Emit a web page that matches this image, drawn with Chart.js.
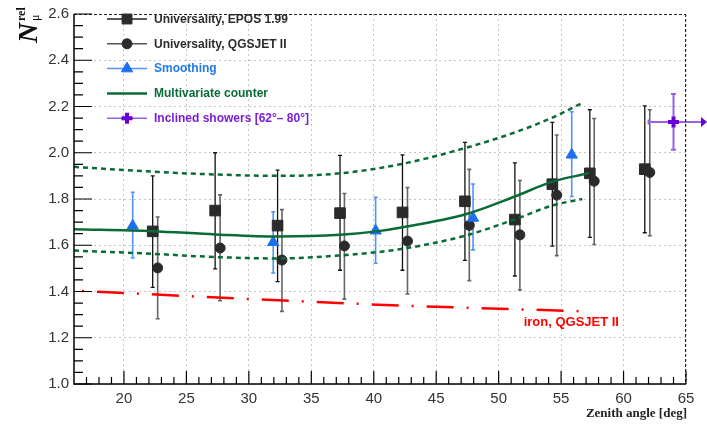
<!DOCTYPE html>
<html>
<head>
<meta charset="utf-8">
<script src="https://cdn.jsdelivr.net/npm/chart.js@4.4.0/dist/chart.umd.min.js"></script>
<style>
  html, body { margin: 0; padding: 0; background: #fff; }
  canvas { display: block; }
</style>
</head>
<body>
<canvas id="grafico" width="707" height="426"></canvas>
<script>
// eixo
const xTickValues = [20, 25, 30, 35, 40, 45, 50, 55, 60, 65]
const yTickValues = [1.0, 1.2, 1.4, 1.6, 1.8, 2.0, 2.2, 2.4, 2.6]

// Universality, EPOS 1.99
const eposX = [22.3, 27.3, 32.3, 37.3, 42.3, 47.3, 51.3, 54.3, 57.3, 61.7]
const eposY = [1.66, 1.75, 1.685, 1.739, 1.742, 1.79, 1.711, 1.864, 1.911, 1.929]
const eposHi = [1.9, 2.0, 1.925, 1.989, 1.991, 2.045, 1.956, 2.131, 2.186, 2.203]
const eposLo = [1.418, 1.498, 1.443, 1.492, 1.492, 1.535, 1.467, 1.596, 1.634, 1.654]

// Universality, QGSJET II
const qgsX = [22.7, 27.7, 32.65, 37.65, 42.7, 47.65, 51.7, 54.65, 57.65, 62.1]
const qgsY = [1.502, 1.588, 1.536, 1.597, 1.618, 1.686, 1.645, 1.817, 1.877, 1.915]
const qgsHi = [1.722, 1.818, 1.754, 1.824, 1.85, 1.928, 1.88, 2.077, 2.148, 2.186]
const qgsLo = [1.282, 1.36, 1.314, 1.367, 1.389, 1.447, 1.407, 1.555, 1.603, 1.641]

// Smoothing
const smoothX = [20.7, 31.95, 40.15, 47.95, 55.85]
const smoothY = [1.684, 1.613, 1.663, 1.718, 1.991]
const smoothHi = [1.829, 1.745, 1.807, 1.865, 2.177]
const smoothLo = [1.545, 1.48, 1.522, 1.58, 1.811]

// Multivariate counter (central + banda)
const mvaX = [16, 22.3, 27.3, 32.3, 37.3, 40.2, 42.1, 47.3, 51.3, 54.3, 57.2]
const mvaY = [1.669, 1.661, 1.647, 1.638, 1.645, 1.66, 1.676, 1.733, 1.811, 1.875, 1.911]
const mvaUpX = [16, 22.3, 27.3, 32.3, 37.3, 42.1, 47.3, 51.3, 54.3, 56.6]
const mvaUpY = [1.939, 1.918, 1.906, 1.9, 1.911, 1.95, 2.02, 2.088, 2.152, 2.213]
const mvaLowX = [16, 22.3, 27.3, 32.3, 37.3, 42.1, 47.3, 51.3, 54.3, 56.7]
const mvaLowY = [1.577, 1.563, 1.549, 1.543, 1.556, 1.583, 1.641, 1.712, 1.772, 1.8]

// iron, QGSJET II
const ironX = [16, 29, 42, 56.4]
const ironY = [1.404, 1.37, 1.339, 1.315]

// Inclined showers [62-80]
const inclX = [64.0]
const inclY = [2.133]
const inclHi = [2.254]
const inclLo = [2.013]
const inclXLo = [62]
const inclXHi = [80]

const legendLabels = [
  'Universality, EPOS 1.99',
  'Universality, QGSJET II',
  'Smoothing',
  'Multivariate counter',
  'Inclined showers [62°– 80°]'
]

const DARK = '#2b2b2b'
const BLUE = '#1f6ff2'
const GREEN = '#0b6b37'
const PURPLE = '#6a00d8'
const RED = '#ff0000'

const pts = (xs, ys) => xs.map((x, i) => ({ x, y: ys[i] }))

// barras de erro desenhadas pelas escalas do grafico
const errorBars = {
  id: 'errorBars',
  beforeDatasetsDraw(chart) {
    const { ctx, scales: { x, y } } = chart
    const sets = [
      { xs: eposX, lo: eposLo, hi: eposHi, color: '#111', width: 1.3 },
      { xs: qgsX, lo: qgsLo, hi: qgsHi, color: '#666', width: 1.6 },
      { xs: smoothX, lo: smoothLo, hi: smoothHi, color: '#4d94ff', width: 1.6 }
    ]
    ctx.save()
    sets.forEach(s => {
      ctx.strokeStyle = s.color
      ctx.lineWidth = s.width
      s.xs.forEach((xv, i) => {
        const px = x.getPixelForValue(xv)
        const top = y.getPixelForValue(s.hi[i])
        const bot = y.getPixelForValue(s.lo[i])
        ctx.beginPath()
        ctx.moveTo(px, top)
        ctx.lineTo(px, bot)
        ctx.moveTo(px - 2, top)
        ctx.lineTo(px + 2, top)
        ctx.moveTo(px - 2, bot)
        ctx.lineTo(px + 2, bot)
        ctx.stroke()
      })
    })
    // inclinados: barra horizontal sai do quadro ate a borda
    ctx.strokeStyle = '#9a5ee8'
    ctx.fillStyle = PURPLE
    ctx.lineWidth = 2
    inclX.forEach((xv, i) => {
      const px = x.getPixelForValue(xv)
      const py = y.getPixelForValue(inclY[i])
      const top = y.getPixelForValue(inclHi[i])
      const bot = y.getPixelForValue(inclLo[i])
      const left = x.getPixelForValue(inclXLo[i])
      const right = Math.min(x.getPixelForValue(inclXHi[i]), chart.width)
      ctx.beginPath()
      ctx.moveTo(px, top)
      ctx.lineTo(px, bot)
      ctx.moveTo(px - 2.5, top)
      ctx.lineTo(px + 2.5, top)
      ctx.moveTo(px - 2.5, bot)
      ctx.lineTo(px + 2.5, bot)
      ctx.moveTo(left, py)
      ctx.lineTo(right - 5, py)
      ctx.moveTo(left, py - 2.5)
      ctx.lineTo(left, py + 2.5)
      ctx.stroke()
      ctx.beginPath()
      ctx.moveTo(right, py)
      ctx.lineTo(right - 6, py - 5)
      ctx.lineTo(right - 6, py + 5)
      ctx.closePath()
      ctx.fill()
    })
    ctx.restore()
  }
}

// eixos estilo ROOT: tracos para dentro, moldura tracejada
const rootAxes = {
  id: 'rootAxes',
  afterDatasetsDraw(chart) {
    const { ctx, chartArea: a, scales: { x, y } } = chart
    ctx.save()
    ctx.strokeStyle = '#222'
    ctx.lineWidth = 1
    ctx.setLineDash([3, 2])
    ctx.beginPath()
    ctx.moveTo(a.left, a.top + 0.5)
    ctx.lineTo(a.right, a.top + 0.5)
    ctx.moveTo(a.right - 0.5, a.top)
    ctx.lineTo(a.right - 0.5, a.bottom)
    ctx.stroke()
    ctx.setLineDash([])
    ctx.strokeStyle = '#000'
    ctx.lineWidth = 1.5
    ctx.beginPath()
    ctx.moveTo(a.left, a.top)
    ctx.lineTo(a.left, a.bottom)
    ctx.lineTo(a.right, a.bottom)
    ctx.stroke()
    ctx.lineWidth = 1.2
    ctx.beginPath()
    for (let i = 0; i <= 32; i++) {
      const py = y.getPixelForValue(1 + i * 0.05)
      const len = i % 4 === 0 ? 18 : 9
      ctx.moveTo(a.left, py)
      ctx.lineTo(a.left + len, py)
    }
    for (let v = 17; v <= 65; v++) {
      const px = x.getPixelForValue(v)
      const len = v % 5 === 0 ? 13 : 7
      ctx.moveTo(px, a.bottom)
      ctx.lineTo(px, a.bottom - len)
    }
    ctx.stroke()
    ctx.restore()
  }
}

// titulos, legenda e rotulo do ferro
const annotations = {
  id: 'annotations',
  afterDraw(chart) {
    const { ctx, chartArea: a, scales: { x, y } } = chart
    ctx.save()

    // titulo eixo y
    ctx.fillStyle = '#111'
    ctx.translate(37, 43)
    ctx.rotate(-Math.PI / 2)
    ctx.textBaseline = 'alphabetic'
    ctx.font = 'italic bold 28px "Liberation Serif"'
    ctx.fillText('N', 0, 0)
    ctx.font = 'bold 12px "Liberation Serif"'
    ctx.fillText('rel', 22, -12)
    ctx.font = '12px "Liberation Serif"'
    ctx.fillText('μ', 22, 2)
    ctx.setTransform(1, 0, 0, 1, 0, 0)

    // titulo eixo x
    ctx.font = 'bold 13px "Liberation Serif"'
    ctx.textAlign = 'right'
    ctx.fillStyle = '#222'
    ctx.fillText('Zenith angle [deg]', a.right + 1, 417)

    // rotulo ferro
    ctx.textAlign = 'left'
    ctx.fillStyle = RED
    ctx.font = 'bold 13px "Liberation Sans"'
    ctx.fillText('iron, QGSJET II', x.getPixelForValue(52), y.getPixelForValue(1.25))

    // legenda
    const rows = [
      { color: DARK, line: '#222', style: 'rect', r: 7, bw: 1 },
      { color: DARK, line: '#555', style: 'circle', r: 5, bw: 1 },
      { color: BLUE, line: '#4d94ff', style: 'triangle', r: 6.5, bw: 1 },
      { color: GREEN, line: GREEN, style: null, lw: 2.5 },
      { color: PURPLE, line: '#9a5ee8', style: 'cross', r: 5.5, bw: 4 }
    ]
    const textColors = [DARK, DARK, '#1f7be8', GREEN, '#7a1ed6']
    rows.forEach((row, i) => {
      const cy = 19 + i * 24.8
      ctx.strokeStyle = row.line
      ctx.lineWidth = row.lw || 1.5
      ctx.beginPath()
      ctx.moveTo(107, cy)
      ctx.lineTo(147, cy)
      ctx.stroke()
      if (row.style) {
        ctx.fillStyle = row.color
        ctx.strokeStyle = row.color
        ctx.lineWidth = row.bw
        Chart.helpers.drawPoint(ctx, { pointStyle: row.style, radius: row.r, borderWidth: row.bw, rotation: 0 }, 127, cy)
      }
      ctx.fillStyle = textColors[i]
      ctx.font = 'bold 12px "Liberation Sans"'
      ctx.textBaseline = 'middle'
      ctx.fillText(legendLabels[i], 154, cy + 0.5)
    })
    ctx.restore()
  }
}

new Chart(document.getElementById('grafico'), {
  type: 'scatter',
  data: {
    datasets: [
      {
        data: pts(ironX, ironY),
        showLine: true,
        borderColor: RED,
        borderWidth: 2.5,
        borderDash: [27, 13, 2, 13],
        borderDashOffset: 32,
        pointRadius: 0
      },
      {
        data: pts(mvaUpX, mvaUpY),
        showLine: true,
        borderColor: GREEN,
        borderWidth: 2.5,
        borderDash: [5, 4],
        cubicInterpolationMode: 'monotone',
        pointRadius: 0
      },
      {
        data: pts(mvaLowX, mvaLowY),
        showLine: true,
        borderColor: GREEN,
        borderWidth: 2.5,
        borderDash: [5, 4],
        cubicInterpolationMode: 'monotone',
        pointRadius: 0
      },
      {
        data: pts(mvaX, mvaY),
        showLine: true,
        borderColor: GREEN,
        borderWidth: 2.5,
        cubicInterpolationMode: 'monotone',
        pointRadius: 0
      },
      {
        data: pts(smoothX, smoothY),
        pointStyle: 'triangle',
        pointRadius: 6.5,
        backgroundColor: BLUE,
        borderColor: BLUE,
        borderWidth: 1
      },
      {
        data: pts(eposX, eposY),
        pointStyle: 'rect',
        pointRadius: 7.5,
        backgroundColor: DARK,
        borderColor: DARK,
        borderWidth: 1
      },
      {
        data: pts(qgsX, qgsY),
        pointStyle: 'circle',
        pointRadius: 5,
        backgroundColor: DARK,
        borderColor: DARK,
        borderWidth: 1
      },
      {
        data: pts(inclX, inclY),
        pointStyle: 'cross',
        pointRadius: 5.5,
        borderColor: PURPLE,
        borderWidth: 4
      }
    ]
  },
  options: {
    responsive: false,
    animation: false,
    devicePixelRatio: 1,
    layout: { padding: { left: 0, right: 21, top: 8, bottom: 0 } },
    plugins: { legend: { display: false }, tooltip: { enabled: false } },
    scales: {
      x: {
        type: 'linear',
        min: 16,
        max: 65,
        afterBuildTicks: scale => { scale.ticks = xTickValues.map(value => ({ value })) },
        afterFit: scale => { scale.height = 42 },
        ticks: {
          font: { family: 'Liberation Sans', size: 15 },
          color: '#333',
          padding: 6,
          maxRotation: 0
        },
        grid: { color: '#c4c4c4', lineWidth: 1, drawTicks: false },
        border: { display: false, dash: [2, 3] }
      },
      y: {
        type: 'linear',
        min: 1,
        max: 2.6,
        afterBuildTicks: scale => { scale.ticks = yTickValues.map(value => ({ value })) },
        afterFit: scale => { scale.width = 74 },
        ticks: {
          font: { family: 'Liberation Sans', size: 15 },
          color: '#333',
          padding: 5,
          callback: v => v.toFixed(1)
        },
        grid: { color: '#c4c4c4', lineWidth: 1, drawTicks: false },
        border: { display: false, dash: [2, 3] }
      }
    }
  },
  plugins: [errorBars, rootAxes, annotations]
})
</script>
</body>
</html>
